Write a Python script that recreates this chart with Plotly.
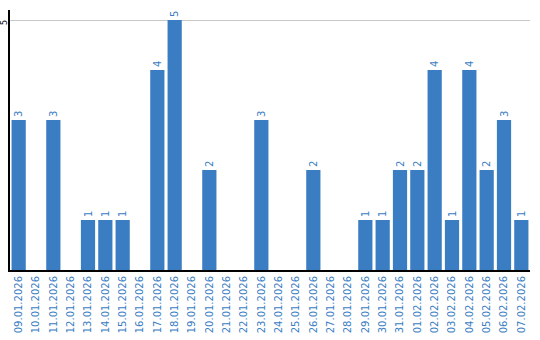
import plotly.graph_objects as go

dates = ["09.01.2026","10.01.2026","11.01.2026","12.01.2026","13.01.2026","14.01.2026",
         "15.01.2026","16.01.2026","17.01.2026","18.01.2026","19.01.2026","20.01.2026",
         "21.01.2026","22.01.2026","23.01.2026","24.01.2026","25.01.2026","26.01.2026",
         "27.01.2026","28.01.2026","29.01.2026","30.01.2026","31.01.2026","01.02.2026",
         "02.02.2026","03.02.2026","04.02.2026","05.02.2026","06.02.2026","07.02.2026"]
values = [3,0,3,0,1,1,1,0,4,5,0,2,0,0,3,0,0,2,0,0,1,1,2,2,4,1,4,2,3,1]
y_ticks = [5]

blue = "#3a7dc2"
labels = [str(v) if v > 0 else "" for v in values]

fig = go.Figure(go.Bar(
    x=dates, y=values, marker_color=blue, marker_line_width=0,
    text=labels, textposition="outside", textangle=-90,
    textfont=dict(family="DejaVu Sans", size=10, color=blue),
    cliponaxis=False,
))
for t in y_ticks:
    fig.add_annotation(x=0, xref="paper", y=t, yref="y", text=str(t), showarrow=False,
                       textangle=-90, xanchor="center", yanchor="middle", xshift=-6, yshift=-3,
                       font=dict(family="DejaVu Sans", size=8, color="black"))
fig.update_layout(
    width=540, height=340,
    margin=dict(l=10, r=10, t=10, b=70),
    paper_bgcolor="white", plot_bgcolor="white",
    bargap=0.18, showlegend=False,
    xaxis=dict(type="category", tickangle=-90, showline=True, linecolor="black", linewidth=2,
               tickfont=dict(family="DejaVu Sans", size=10, color=blue), ticks="",
               showgrid=False, automargin=False),
    yaxis=dict(range=[0, 5.2], tickvals=y_ticks, showticklabels=False,
               showline=True, linecolor="black", linewidth=2, showgrid=True,
               gridcolor="#c8c8c8", gridwidth=1, zeroline=False, ticks="",
               automargin=False),
)
fig.write_html("out.html")
